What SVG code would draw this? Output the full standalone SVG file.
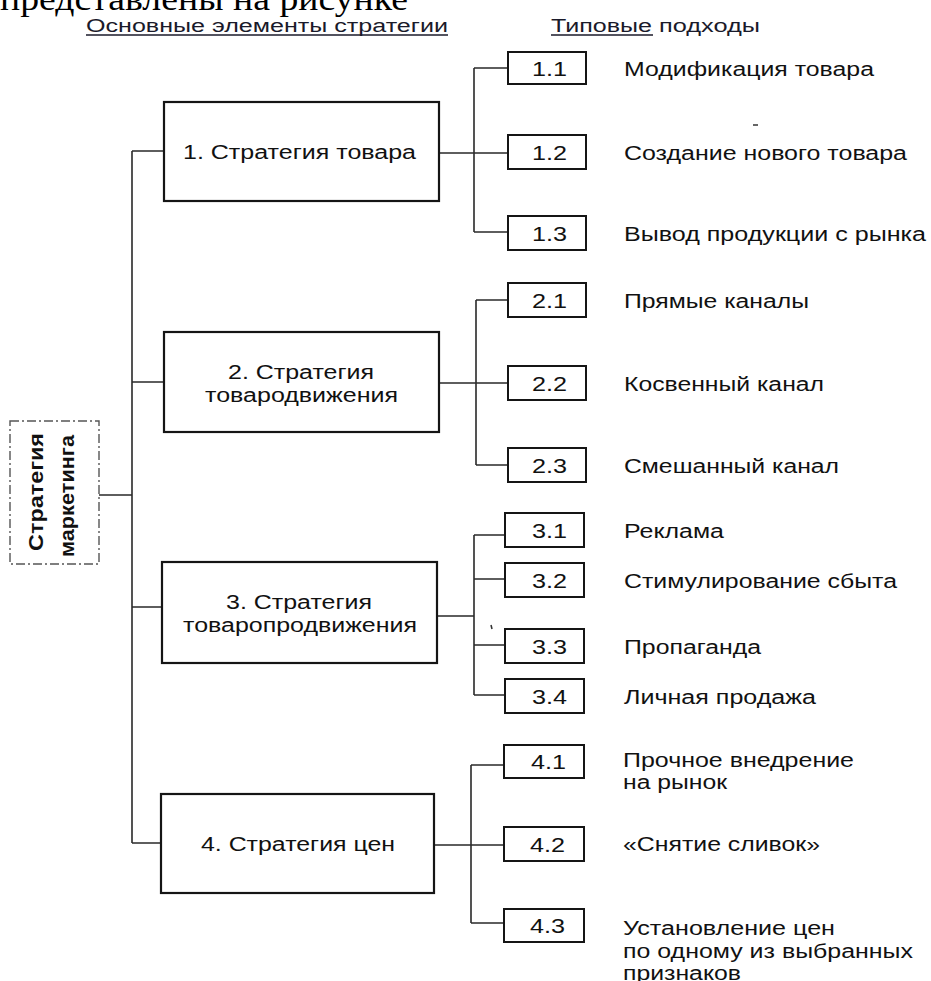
<svg xmlns="http://www.w3.org/2000/svg" width="931" height="981" viewBox="0 0 931 981">
<style>
.box{fill:#fff;stroke:#151515;stroke-width:2.2}
.sub{fill:#fff;stroke:#151515;stroke-width:2}
.root{fill:#fff;stroke:#555;stroke-width:1.4;stroke-dasharray:9 3 2 3}
.conn{fill:none;stroke:#2a2a2a;stroke-width:1.6}
.t{font-family:"Liberation Sans",Arial,sans-serif;font-size:20px;fill:#111}
.num{font-family:"Liberation Sans",Arial,sans-serif;font-size:20px;fill:#111}
.hdr{font-family:"Liberation Sans",Arial,sans-serif;font-size:18px;fill:#1a1a2a}
.rt{font-family:"Liberation Sans",Arial,sans-serif;font-size:20px;font-weight:bold;fill:#111}
.serif{font-family:"Liberation Serif","Times New Roman",serif;font-size:34px;fill:#000}
.ul{stroke:#1a1a2a;stroke-width:1.3}
.speck{fill:none;stroke:#333;stroke-width:1.5}
</style>

<text class="serif" x="0" y="10" textLength="408" lengthAdjust="spacingAndGlyphs">представлены на рисунке</text>

<g id="headers">
<text class="hdr" x="86" y="32" textLength="362" lengthAdjust="spacingAndGlyphs">Основные элементы стратегии</text>
<line class="ul" x1="86" y1="35" x2="448" y2="35"/>
<text class="hdr" x="551" y="32" textLength="101" lengthAdjust="spacingAndGlyphs">Типовые</text>
<text class="hdr" x="659" y="32" textLength="101" lengthAdjust="spacingAndGlyphs">подходы</text>
<line class="ul" x1="551" y1="35" x2="653" y2="35"/>
</g>

<g id="connectors">
<path class="conn" d="M132,151 V843 M99,495 H132 M132,151 H164 M132,382 H164 M132,607 H162 M132,843 H161"/>
<path class="conn" d="M439,153 H508 M474,68 V232 M474,68 H508 M474,232 H508"/>
<path class="conn" d="M439,383 H508 M476,300 V465 M476,300 H508 M476,465 H508"/>
<path class="conn" d="M437,616 H474 M474,535 V695 M474,535 H505 M474,579 H505 M474,645 H505 M474,695 H505"/>
<path class="conn" d="M434,845 H504 M471,765 V923 M471,765 H504 M471,923 H504"/>
</g>

<g id="root">
<rect class="root" x="10" y="421" width="89" height="143"/>
<text class="rt" transform="translate(43,492) rotate(-90)" x="-59" y="0" textLength="118" lengthAdjust="spacingAndGlyphs">Стратегия</text>
<text class="rt" transform="translate(74,496) rotate(-90)" x="-61" y="0" textLength="122" lengthAdjust="spacingAndGlyphs">маркетинга</text>
</g>

<g id="s1">
<rect class="box" x="164" y="102" width="275" height="99"/>
<text class="t" x="183" y="159" textLength="233" lengthAdjust="spacingAndGlyphs">1. Стратегия товара</text>
</g>
<g id="s2">
<rect class="box" x="164" y="332" width="275" height="100"/>
<text class="t" x="228" y="379" textLength="146" lengthAdjust="spacingAndGlyphs">2. Стратегия</text>
<text class="t" x="205" y="402" textLength="193" lengthAdjust="spacingAndGlyphs">товародвижения</text>
</g>
<g id="s3">
<rect class="box" x="162" y="562" width="275" height="101"/>
<text class="t" x="226" y="609" textLength="146" lengthAdjust="spacingAndGlyphs">3. Стратегия</text>
<text class="t" x="183" y="632" textLength="234" lengthAdjust="spacingAndGlyphs">товаропродвижения</text>
</g>
<g id="s4">
<rect class="box" x="161" y="794" width="273" height="99"/>
<text class="t" x="201" y="851" textLength="194" lengthAdjust="spacingAndGlyphs">4. Стратегия цен</text>
</g>

<g id="n11"><rect class="sub" x="508" y="52" width="78" height="32"/><text class="num" x="532" y="76" textLength="35" lengthAdjust="spacingAndGlyphs">1.1</text><text class="t" x="624" y="76" textLength="250" lengthAdjust="spacingAndGlyphs">Модификация товара</text></g>
<g id="n12"><rect class="sub" x="508" y="135" width="78" height="34"/><text class="num" x="532" y="160" textLength="35" lengthAdjust="spacingAndGlyphs">1.2</text><text class="t" x="624" y="160" textLength="283" lengthAdjust="spacingAndGlyphs">Создание нового товара</text></g>
<g id="n13"><rect class="sub" x="508" y="216" width="78" height="34"/><text class="num" x="532" y="241" textLength="35" lengthAdjust="spacingAndGlyphs">1.3</text><text class="t" x="624" y="241" textLength="302" lengthAdjust="spacingAndGlyphs">Вывод продукции с рынка</text></g>

<g id="n21"><rect class="sub" x="508" y="283" width="78" height="34"/><text class="num" x="532" y="308" textLength="35" lengthAdjust="spacingAndGlyphs">2.1</text><text class="t" x="624" y="308" textLength="185" lengthAdjust="spacingAndGlyphs">Прямые каналы</text></g>
<g id="n22"><rect class="sub" x="508" y="366" width="78" height="34"/><text class="num" x="532" y="391" textLength="35" lengthAdjust="spacingAndGlyphs">2.2</text><text class="t" x="624" y="391" textLength="200" lengthAdjust="spacingAndGlyphs">Косвенный канал</text></g>
<g id="n23"><rect class="sub" x="508" y="448" width="78" height="34"/><text class="num" x="532" y="473" textLength="35" lengthAdjust="spacingAndGlyphs">2.3</text><text class="t" x="624" y="473" textLength="215" lengthAdjust="spacingAndGlyphs">Смешанный канал</text></g>

<g id="n31"><rect class="sub" x="505" y="513" width="79" height="34"/><text class="num" x="532" y="538" textLength="35" lengthAdjust="spacingAndGlyphs">3.1</text><text class="t" x="624" y="538" textLength="100" lengthAdjust="spacingAndGlyphs">Реклама</text></g>
<g id="n32"><rect class="sub" x="505" y="563" width="79" height="34"/><text class="num" x="532" y="588" textLength="35" lengthAdjust="spacingAndGlyphs">3.2</text><text class="t" x="624" y="588" textLength="273" lengthAdjust="spacingAndGlyphs">Стимулирование сбыта</text></g>
<g id="n33"><rect class="sub" x="505" y="629" width="79" height="34"/><text class="num" x="532" y="654" textLength="35" lengthAdjust="spacingAndGlyphs">3.3</text><text class="t" x="624" y="654" textLength="137" lengthAdjust="spacingAndGlyphs">Пропаганда</text></g>
<g id="n34"><rect class="sub" x="505" y="679" width="79" height="34"/><text class="num" x="532" y="704" textLength="35" lengthAdjust="spacingAndGlyphs">3.4</text><text class="t" x="624" y="704" textLength="192" lengthAdjust="spacingAndGlyphs">Личная продажа</text></g>

<g id="n41"><rect class="sub" x="504" y="745" width="80" height="33"/><text class="num" x="531" y="769" textLength="35" lengthAdjust="spacingAndGlyphs">4.1</text><text class="t" x="623" y="767" textLength="231" lengthAdjust="spacingAndGlyphs">Прочное внедрение</text><text class="t" x="623" y="789" textLength="104" lengthAdjust="spacingAndGlyphs">на рынок</text></g>
<g id="n42"><rect class="sub" x="504" y="827" width="80" height="34"/><text class="num" x="530" y="852" textLength="35" lengthAdjust="spacingAndGlyphs">4.2</text><text class="t" x="623" y="851" textLength="197" lengthAdjust="spacingAndGlyphs">«Снятие сливок»</text></g>
<g id="n43"><rect class="sub" x="504" y="909" width="80" height="33"/><text class="num" x="530" y="933" textLength="35" lengthAdjust="spacingAndGlyphs">4.3</text><text class="t" x="623" y="935" textLength="212" lengthAdjust="spacingAndGlyphs">Установление цен</text><text class="t" x="623" y="958" textLength="290" lengthAdjust="spacingAndGlyphs">по одному из выбранных</text><text class="t" x="623" y="980" textLength="118" lengthAdjust="spacingAndGlyphs">признаков</text></g>

<g id="scan-marks">
<path class="speck" d="M753,125 H758"/>
<path class="speck" d="M491,625 L492,629"/>
</g>
</svg>
